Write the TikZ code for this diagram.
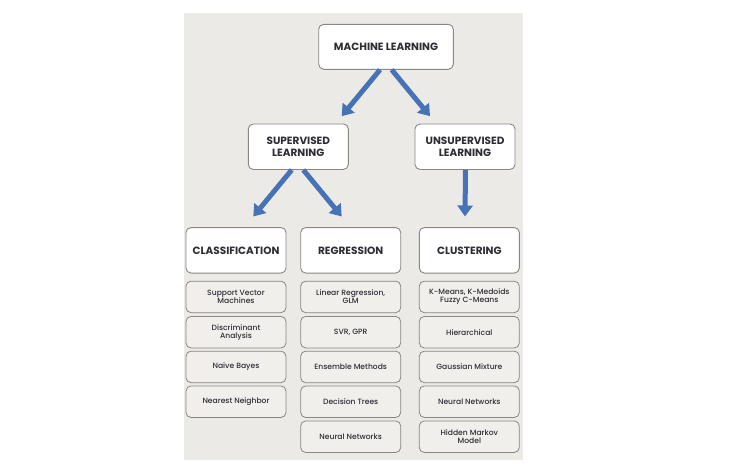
\documentclass[tikz,border=0pt]{standalone}
\usepackage{fontspec}
\setmainfont{Poppins}
\newfontfamily\itemfont{Poppins}[UprightFont=* Medium]
\usetikzlibrary{arrows.meta,calc}
\definecolor{bgpanel}{HTML}{ECEAE6}
\definecolor{boxline}{HTML}{8A8682}
\definecolor{arrowblue}{HTML}{4573B5}
\definecolor{txt}{HTML}{2E2D35}
\tikzset{
  headbox/.style={draw=boxline, line width=0.9pt, rounded corners=5pt, fill=white,
    minimum width=100pt, minimum height=45.5pt, inner sep=2pt, align=center,
    text=txt, font=\fontsize{10.5}{11.5}\selectfont\bfseries},
  topbox/.style={headbox, minimum width=134.6pt, minimum height=45pt},
  itembox/.style={draw=boxline, line width=0.8pt, rounded corners=5pt, fill=bgpanel!75!white,
    minimum width=100pt, minimum height=31.5pt, inner sep=1pt, align=center,
    text=txt, font=\itemfont\fontsize{7.6}{7.8}\selectfont},
  bigarrow/.style={draw=arrowblue, line width=5pt,
    -{Triangle[width=15pt,length=11pt]}}
}
\begin{document}
\begin{tikzpicture}[x=1pt,y=-1pt]
\useasboundingbox (0,0) rectangle (754,474);
\fill[white] (0,0) rectangle (754,474);
\fill[bgpanel] (184,13) rectangle (523,460);

\node[topbox] (ml) at (386,46.8) {MACHINE LEARNING};
\node[headbox] (sup) at (298.3,146.7) {SUPERVISED\\LEARNING};
\node[headbox] (unsup) at (465,146.7) {UNSUPERVISED\\LEARNING};

\node[headbox] (class) at (236,250.3) {CLASSIFICATION};
\node[headbox] (reg) at (350.7,250.3) {REGRESSION};
\node[headbox] (clust) at (469.3,250.3) {CLUSTERING};

\node[itembox] (c1) at (236,296.9) {Support Vector\\Machines};
\node[itembox] (c2) at (236,332.2) {Discriminant\\Analysis};
\node[itembox] (c3) at (236,366.9) {Naive Bayes};
\node[itembox] (c4) at (236,401.7) {Nearest Neighbor};

\node[itembox] (r1) at (350.7,296.9) {Linear Regression,\\GLM};
\node[itembox] (r2) at (350.7,332.2) {SVR, GPR};
\node[itembox] (r3) at (350.7,366.9) {Ensemble Methods};
\node[itembox] (r4) at (350.7,401.7) {Decision Trees};
\node[itembox] (r5) at (350.7,436.7) {Neural Networks};

\node[itembox] (k1) at (469.3,296.9) {K-Means, K-Medoids\\Fuzzy C-Means};
\node[itembox] (k2) at (469.3,332.2) {Hierarchical};
\node[itembox] (k3) at (469.3,366.9) {Gaussian Mixture};
\node[itembox] (k4) at (469.3,401.7) {Neural Networks};
\node[itembox] (k5) at (469.3,436.7) {Hidden Markov\\Model};

\draw[bigarrow] ([xshift=-6pt]ml.south) -- ([xshift=43.4pt,yshift=7.3pt]sup.north);
\draw[bigarrow] ([xshift=5.7pt]ml.south) -- ([xshift=-35pt,yshift=7.3pt]unsup.north);
\draw[bigarrow] ([xshift=-6.6pt]sup.south) -- ([xshift=17.3pt,yshift=10.6pt]class.north);
\draw[bigarrow] ([xshift=5pt]sup.south) -- ([xshift=-9pt,yshift=10.6pt]reg.north);
\draw[bigarrow] ([xshift=0.5pt]unsup.south) -- ([yshift=10.6pt]unsup.south |- clust.north);
\end{tikzpicture}
\end{document}
